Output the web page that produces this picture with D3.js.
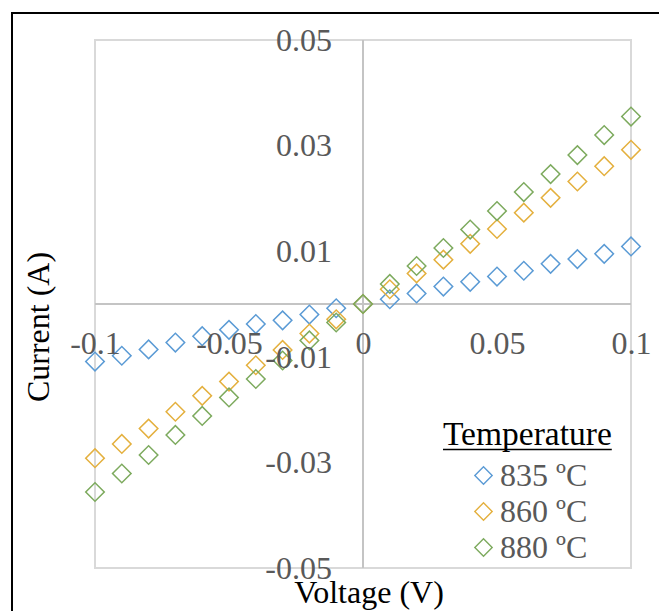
<!DOCTYPE html>
<html>
<head>
<meta charset="utf-8">
<script src="https://cdn.jsdelivr.net/npm/d3@7"></script>
<style>
  html, body { margin: 0; padding: 0; background: #fff; }
  svg { display: block; }
  text { font-family: "Liberation Serif", "Times New Roman", serif; }
</style>
</head>
<body>
<svg id="chart" width="659" height="611"></svg>
<script>
// I–V sweep: applied voltage (V) and measured current (A) for three sintering temperatures
const voltage = [-0.1, -0.09, -0.08, -0.07, -0.06, -0.05, -0.04, -0.03, -0.02, -0.01, 0,
                 0.01, 0.02, 0.03, 0.04, 0.05, 0.06, 0.07, 0.08, 0.09, 0.1];
const current835 = [-0.0109, -0.0098, -0.0086, -0.0073, -0.0061, -0.0049, -0.0038, -0.0031, -0.0020, -0.0008, 0,
                     0.0009, 0.0020, 0.0033, 0.0042, 0.0052, 0.0063, 0.0076, 0.0085, 0.0095, 0.0109];
const current860 = [-0.0292, -0.0265, -0.0236, -0.0204, -0.0174, -0.0147, -0.0116, -0.0087, -0.0056, -0.0029, 0,
                    0.0028, 0.0058, 0.0084, 0.0114, 0.0142, 0.0173, 0.0201, 0.0232, 0.0261, 0.0292];
const current880 = [-0.0356, -0.0321, -0.0286, -0.0248, -0.0212, -0.0177, -0.0142, -0.0107, -0.0069, -0.0035, 0,
                    0.0038, 0.0072, 0.0106, 0.0141, 0.0176, 0.0212, 0.0246, 0.0282, 0.0320, 0.0355];
const seriesNames = ["835 ºC", "860 ºC", "880 ºC"];
const seriesColors = ["#5b9bd5", "#e4b03e", "#7daa5e"];

const xTicks = [-0.1, -0.05, 0, 0.05, 0.1];
const xTickLabels = ["-0.1", "-0.05", "0", "0.05", "0.1"];
const yTicks = [0.05, 0.03, 0.01, -0.01, -0.03, -0.05];
const yTickLabels = ["0.05", "0.03", "0.01", "-0.01", "-0.03", "-0.05"];

const series = [current835, current860, current880].map((vals, i) => ({
  name: seriesNames[i],
  color: seriesColors[i],
  points: voltage.map((v, j) => ({ v, c: vals[j] }))
}));

const svg = d3.select("#chart");

// plot area in pixels
const plotLeft = 95, plotRight = 631, plotTop = 40, plotBottom = 568;
const x = d3.scaleLinear().domain([-0.1, 0.1]).range([plotLeft, plotRight]);
const y = d3.scaleLinear().domain([-0.05, 0.05]).range([plotBottom, plotTop]);

// outer chart frame
svg.append("rect")
  .attr("x", 12).attr("y", 13)
  .attr("width", 700).attr("height", 700)
  .attr("fill", "#fff")
  .attr("stroke", "#000").attr("stroke-width", 2);

// plot area border
svg.append("rect")
  .attr("x", x(-0.1)).attr("y", y(0.05))
  .attr("width", x(0.1) - x(-0.1)).attr("height", y(-0.05) - y(0.05))
  .attr("fill", "none")
  .attr("stroke", "#d9d9d9").attr("stroke-width", 2);

// axes crossing at zero
svg.append("line")
  .attr("x1", x(-0.1)).attr("x2", x(0.1))
  .attr("y1", y(0)).attr("y2", y(0))
  .attr("stroke", "#c4c4c4").attr("stroke-width", 2);
svg.append("line")
  .attr("x1", x(0)).attr("x2", x(0))
  .attr("y1", y(0.05)).attr("y2", y(-0.05))
  .attr("stroke", "#c4c4c4").attr("stroke-width", 2);

// diamond markers
const diamond = size => d3.symbol().type(d3.symbolSquare).size(size);

series.forEach(s => {
  svg.append("g")
    .selectAll("path")
    .data(s.points)
    .join("path")
    .attr("d", diamond(172)())
    .attr("transform", d => `translate(${x(d.v)},${y(d.c)}) rotate(45)`)
    .attr("fill", "none")
    .attr("stroke", s.color)
    .attr("stroke-width", 1.5);
});

// tick labels
const xAxis = svg.append("g")
  .attr("transform", `translate(0,${y(0)})`)
  .call(d3.axisBottom(x).tickValues(xTicks).tickSize(0).tickPadding(27)
    .tickFormat((d, i) => xTickLabels[i]));
const yAxis = svg.append("g")
  .attr("transform", `translate(${x(0)},0)`)
  .call(d3.axisLeft(y).tickValues(yTicks).tickSize(0).tickPadding(31)
    .tickFormat((d, i) => yTickLabels[i]));

[xAxis, yAxis].forEach(g => {
  g.select(".domain").remove();
  g.selectAll("text")
    .attr("font-family", "'Liberation Serif', 'Times New Roman', serif")
    .attr("font-size", 32)
    .attr("fill", "#595959");
});

// axis titles
svg.append("text")
  .attr("x", 369).attr("y", 603)
  .attr("text-anchor", "middle")
  .attr("font-size", 32)
  .attr("fill", "#000")
  .text("Voltage (V)");
svg.append("text")
  .attr("transform", "translate(49,327) rotate(-90)")
  .attr("text-anchor", "middle")
  .attr("font-size", 32)
  .attr("fill", "#000")
  .text("Current (A)");

// legend
const legend = svg.append("g");
const title = legend.append("text")
  .attr("x", 443).attr("y", 445)
  .attr("font-size", 33.5)
  .attr("fill", "#000")
  .text("Temperature");
const tw = title.node().getComputedTextLength();
legend.append("line")
  .attr("x1", 443).attr("x2", 443 + tw)
  .attr("y1", 449.5).attr("y2", 449.5)
  .attr("stroke", "#000").attr("stroke-width", 1.5);

const rowY = d3.scalePoint().domain(seriesNames).range([486, 558]);
series.forEach(s => {
  legend.append("path")
    .attr("d", diamond(150)())
    .attr("transform", `translate(483.5,${rowY(s.name) - 10.5}) rotate(45)`)
    .attr("fill", "none")
    .attr("stroke", s.color)
    .attr("stroke-width", 1.4);
  legend.append("text")
    .attr("x", 500).attr("y", rowY(s.name))
    .attr("font-size", 32)
    .attr("fill", "#595959")
    .text(s.name);
});
</script>
</body>
</html>
